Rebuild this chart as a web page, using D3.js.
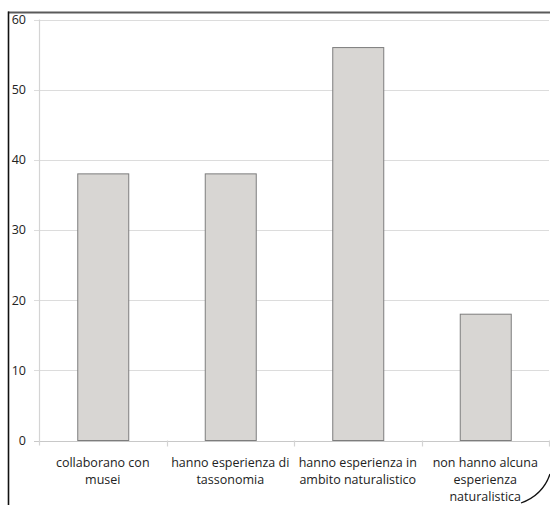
<!DOCTYPE html>
<html>
<head>
<meta charset="utf-8">
<script src="https://cdn.jsdelivr.net/npm/d3@7"></script>
<style>
  html, body { margin: 0; padding: 0; background: #fff; }
  svg { display: block; }
  text { font-family: "Open Sans", "Noto Sans", sans-serif; fill: #222; }
</style>
</head>
<body>
<svg id="chart" width="550" height="505"></svg>
<script>
// Categories (each label split into its printed lines)
const categories = [
  ["collaborano con", "musei"],
  ["hanno esperienza di", "tassonomia"],
  ["hanno esperienza in", "ambito naturalistico"],
  ["non hanno alcuna", "esperienza", "naturalistica"]
];
const values = [38, 38, 56, 18];
const yTicks = [0, 10, 20, 30, 40, 50, 60];

const svg = d3.select("#chart");
const plot = { left: 39, right: 549, top: 19.5, bottom: 440.5 };

const x = d3.scaleBand()
  .domain(d3.range(categories.length))
  .range([plot.left, plot.right])
  .paddingInner(0.6)
  .paddingOuter(0.3);

const y = d3.scaleLinear().domain([0, 60]).range([plot.bottom, plot.top]);

// Horizontal gridlines with short tick marks to the left
const grid = svg.append("g");
grid.selectAll("line.h").data(yTicks).join("line")
  .attr("x1", plot.left - 5).attr("x2", plot.right)
  .attr("y1", d => Math.round(y(d)) + 0.5).attr("y2", d => Math.round(y(d)) + 0.5)
  .attr("stroke", d => d === 0 ? "#c8c8c8" : "#dcdcdc").attr("stroke-width", 1.2);

// Y axis line
grid.append("line")
  .attr("x1", plot.left + 0.5).attr("x2", plot.left + 0.5)
  .attr("y1", y(60)).attr("y2", plot.bottom + 5)
  .attr("stroke", "#d4d4d4").attr("stroke-width", 1.2);

// Category boundary ticks below the baseline
const step = x.step();
const bounds = d3.range(categories.length + 1).map(i => plot.left + i * (plot.right - plot.left) / categories.length);
grid.selectAll("line.b").data(bounds.slice(1)).join("line")
  .attr("x1", d => Math.round(d) + 0.5).attr("x2", d => Math.round(d) + 0.5)
  .attr("y1", plot.bottom).attr("y2", plot.bottom + 6)
  .attr("stroke", "#d4d4d4").attr("stroke-width", 1.2);

// Y tick labels
svg.append("g").selectAll("text").data(yTicks).join("text")
  .attr("x", 26).attr("y", d => y(d))
  .attr("dy", "0.35em")
  .attr("text-anchor", "end")
  .attr("font-size", 12.5)
  .text(d => d);

// Bars
svg.append("g").selectAll("rect").data(values).join("rect")
  .attr("x", (d, i) => x(i) + 0.5)
  .attr("y", d => y(d))
  .attr("width", x.bandwidth())
  .attr("height", d => y(0) - y(d))
  .attr("fill", "#d8d6d3")
  .attr("stroke", "#7d7d7d")
  .attr("stroke-width", 1);

// Category labels
const labels = svg.append("g");
categories.forEach((lines, i) => {
  const cx = x(i) + x.bandwidth() / 2;
  const t = labels.append("text")
    .attr("text-anchor", "middle")
    .attr("font-size", 12.5);
  lines.forEach((ln, j) => {
    t.append("tspan").attr("x", cx).attr("y", 467 + j * 17).text(ln);
  });
});

// Frame edges and rounded corner
svg.append("line")
  .attr("x1", 8).attr("x2", 550).attr("y1", 12.5).attr("y2", 12.5)
  .attr("stroke", "#5a5a5a").attr("stroke-width", 2);
svg.append("line")
  .attr("x1", 8.5).attr("x2", 8.5).attr("y1", 11.5).attr("y2", 505)
  .attr("stroke", "#111").attr("stroke-width", 1.6);
svg.append("path")
  .attr("d", "M 521 503 Q 543 495 550 474")
  .attr("fill", "none").attr("stroke", "#111").attr("stroke-width", 1.3);
</script>
</body>
</html>
